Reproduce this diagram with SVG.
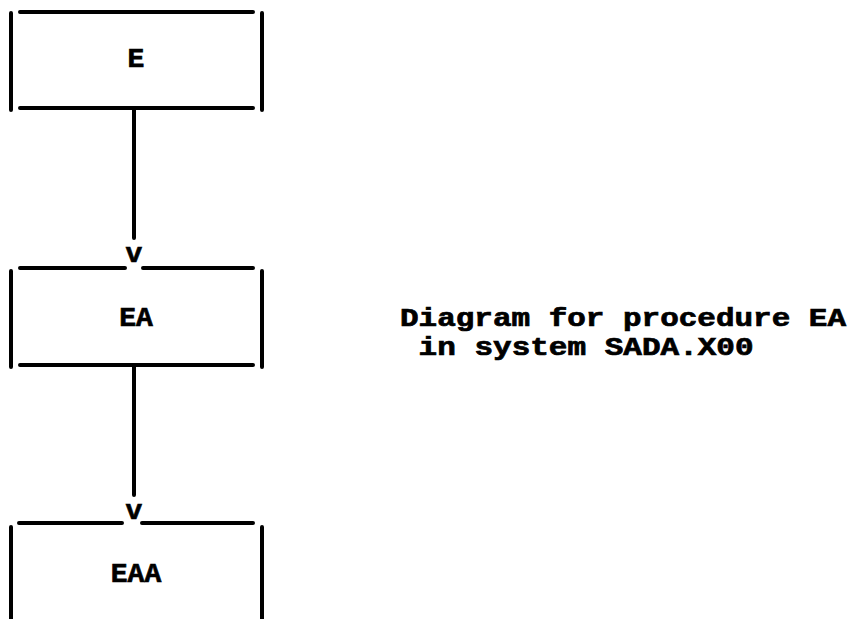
<svg xmlns="http://www.w3.org/2000/svg" width="852" height="619" viewBox="0 0 852 619">
<style>
.b{stroke:#000;stroke-width:4;fill:none;stroke-linecap:round}
.t{font-family:"Liberation Mono","Courier New",monospace;font-weight:bold;font-size:28px;fill:#000;stroke:#000;stroke-width:0.7}
.c{font-size:25px}
.m{text-anchor:middle}
</style>
<rect width="852" height="619" fill="#fff"/>
<g id="node-E">
<path class="b" d="M20 12H253M20 108H253M11 13V110M262 13V110"/>
<text class="t m" x="136" y="67">E</text>
</g>
<g id="node-EA">
<path class="b" d="M20 268H125M143 268H253M20 365H253M11 271V367M262 271V367"/>
<text class="t m" x="136" y="326">EA</text>
</g>
<g id="node-EAA">
<path class="b" d="M19 523H122M142 523H253M11 527V625M262 527V625"/>
<text class="t m" x="136" y="582">EAA</text>
</g>
<g id="connectors">
<path class="b" d="M134 110V238M134 367V495"/>
<text class="t m" x="134" y="262">v</text>
<text class="t m" x="134" y="519">v</text>
</g>
<g id="caption">
<text class="t c" x="400" y="326" textLength="446" lengthAdjust="spacingAndGlyphs">Diagram for procedure EA</text>
<text class="t c" x="418.6" y="355" textLength="335" lengthAdjust="spacingAndGlyphs">in system SADA.X00</text>
</g>
</svg>
